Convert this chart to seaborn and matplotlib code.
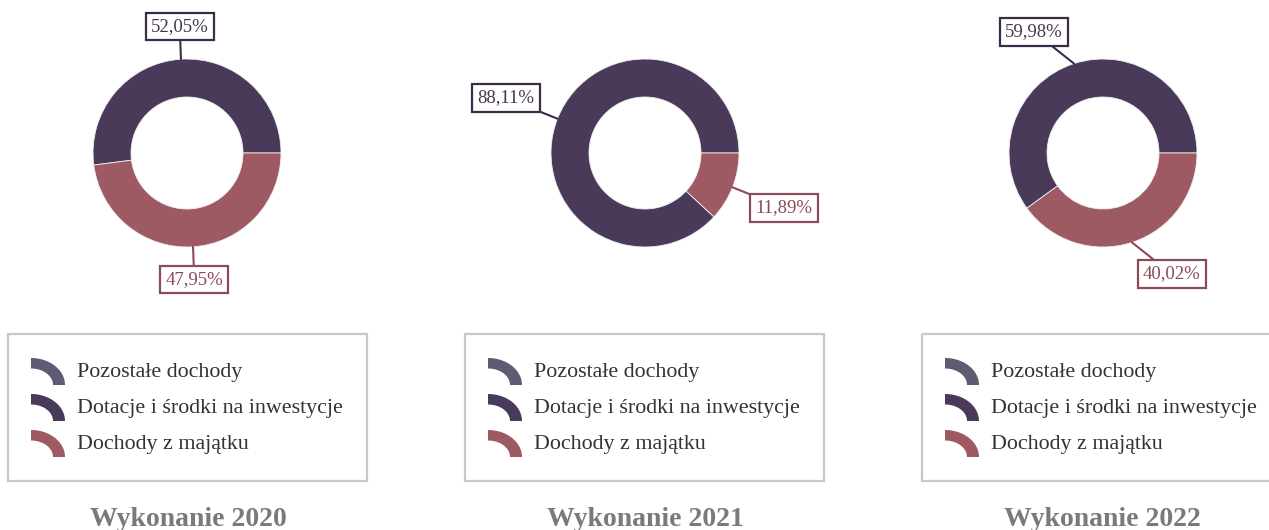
import numpy as np
import matplotlib
matplotlib.use("Agg")
import matplotlib.pyplot as plt
import seaborn as sns
from matplotlib.patches import Rectangle, Polygon

# ---------------- data ----------------
years = ["2020", "2021", "2022"]
categories = ["Pozostałe dochody", "Dotacje i środki na inwestycje", "Dochody z majątku"]
pozostale = [0.0, 0.0, 0.0]
dotacje = [52.05, 88.11, 59.98]
majatek = [47.95, 11.89, 40.02]
titles = ["Wykonanie 2020", "Wykonanie 2021", "Wykonanie 2022"]

# ---------------- style ----------------
sns.set_theme(style="white")
plt.rcParams["font.family"] = ["Liberation Serif", "DejaVu Serif"]

colors = ["#5e5b73", "#4a3a5a", "#9e5a63"]
label_edge = ["#5e5b73", "#3b2d4a", "#8a4a57"]
label_text = ["#5e5b73", "#45374f", "#8a4a57"]

W, H = 1269, 530
fig = plt.figure(figsize=(W / 100, H / 100), dpi=100)
fig.patch.set_facecolor("white")

# overlay axes in pixel coords for legends and titles
ov = fig.add_axes([0, 0, 1, 1])
ov.set_xlim(0, W)
ov.set_ylim(H, 0)
ov.axis("off")

centers_x = [187, 645, 1103]
cy = 153
R = 94
hole = 56

legend_left = [8, 465, 922]
legend_top, legend_bot, legend_w = 334, 481, 359
baselines = [377, 413, 449]

for i, yr in enumerate(years):
    cx = centers_x[i]
    ax = fig.add_axes([(cx - R) / W, 1 - (cy + R) / H, 2 * R / W, 2 * R / H])
    vals = [pozostale[i], dotacje[i], majatek[i]]
    wedges, _ = ax.pie(vals, colors=colors, startangle=0, counterclock=True, radius=1,
                       wedgeprops=dict(width=1 - hole / R, edgecolor="#f2eef2", linewidth=0.6))
    ax.set_xlim(-1, 1)
    ax.set_ylim(-1, 1)
    ax.set_aspect("auto")
    ax.axis("off")

    fs = 13.5
    pad_frac = 0.28
    pad_px = pad_frac * fs * 100 / 72
    for k, (w, v) in enumerate(zip(wedges, vals)):
        if v <= 0:
            continue
        mid = np.deg2rad((w.theta1 + w.theta2) / 2)
        c, s = np.cos(mid), np.sin(mid)
        if abs(c) < 0.2:
            ha, sx = "center", 0
        elif c < 0:
            ha, sx = "right", -1
        else:
            ha, sx = "left", 1
        if s > 0:
            va, sy = "bottom", 1
        else:
            va, sy = "top", -1
        L = 0.2 * R
        dx = L * c + pad_px * sx
        dy = L * s + pad_px * sy
        txt = f"{v:.2f}".replace(".", ",") + "%"
        ax.annotate(txt, xy=(c, s), xytext=(dx, dy), textcoords="offset pixels",
                    ha=ha, va=va, fontsize=fs, color=label_text[k],
                    bbox=dict(boxstyle=f"square,pad={pad_frac}", fc="white",
                              ec=label_edge[k], lw=1.6),
                    arrowprops=dict(arrowstyle="-", color=label_edge[k], lw=1.5,
                                    shrinkA=0, shrinkB=0),
                    annotation_clip=False)

    # legend box
    lx = legend_left[i]
    ov.add_patch(Rectangle((lx, legend_top), legend_w, legend_bot - legend_top,
                           fill=False, ec="#c8c8c8", lw=1.6, clip_on=False))
    for j, cat in enumerate(categories):
        b = baselines[j]
        x0 = lx + 23
        yb = b + 8
        t = np.linspace(np.pi / 2, 0, 30)
        outer = np.column_stack([x0 + 34 * np.cos(t), yb - 27 * np.sin(t)])
        inner = np.column_stack([x0 + 22 * np.cos(t[::-1]), yb - 16.5 * np.sin(t[::-1])])
        ov.add_patch(Polygon(np.vstack([outer, inner]), closed=True, fc=colors[j], ec="none"))
        ov.text(lx + 69, b, cat, fontsize=15.8, color="#333333", ha="left", va="baseline")

    ov.text(lx + legend_w / 2 + 0.5, 526, titles[i], fontsize=20, fontweight="bold",
            color="#7a7a7a", ha="center", va="baseline")

fig.savefig("out.png", dpi=100, facecolor="white")
